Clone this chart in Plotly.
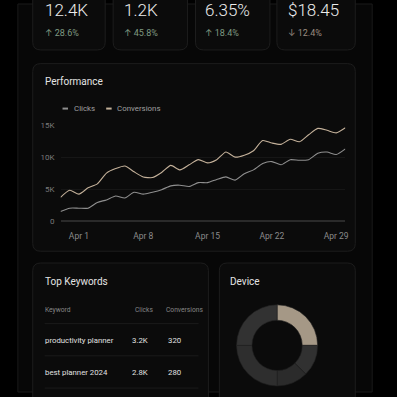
import plotly.graph_objects as go
import pandas as pd

W = H = 397

# ---------------- data ----------------
dates = pd.date_range("2024-03-30", "2024-04-30", freq="D")
clicks = [1500, 2000, 2000, 2000, 2900, 3300, 3900, 3600, 4500, 4200, 4500, 4900,
          5500, 5600, 5400, 6000, 6000, 6500, 6900, 6400, 7400, 8000, 9000, 9300,
          8800, 9600, 9500, 9600, 10600, 10800, 10400, 11300]
conversions = [3700, 4800, 4200, 5200, 5800, 7500, 8200, 8600, 7700, 6900, 6800, 7600,
               8700, 8000, 8800, 9600, 9100, 9600, 10800, 10000, 10300, 11000, 12600, 12200,
               12000, 12800, 12400, 13500, 14500, 14200, 13800, 14600]

x_tick_dates = ["2024-04-01", "2024-04-08", "2024-04-15", "2024-04-22", "2024-04-29"]
x_tick_text = ["Apr 1", "Apr 8", "Apr 15", "Apr 22", "Apr 29"]
y_tick_vals = [0, 5000, 10000, 15000]
y_tick_text = ["0", "5K", "10K", "15K"]

kpi_values = ["12.4K", "1.2K", "6.35%", "$18.45"]
kpi_changes = ["↑ 28.6%", "↑ 45.8%", "↑ 18.4%", "↓ 12.4%"]
kpi_up = [True, True, True, False]

kw_header = ["Keyword", "Clicks", "Conversions"]
kw_names = ["productivity planner", "best planner 2024"]
kw_clicks = ["3.2K", "2.8K"]
kw_conv = ["320", "280"]

device_labels = ["Desktop", "Mobile", "Tablet", "Other A", "Other B"]
device_share = [25, 12.5, 12.5, 25, 25]
device_colors = ["#a59886", "#313131", "#2b2b2b", "#2e2e2e", "#323232"]

series_colors = {"Clicks": "#8f8f8f", "Conversions": "#c4b19a"}

# ---------------- helpers ----------------
def px(x):
    return x / W

def py(y):
    return 1 - y / H

def rrect(x0, y0, x1, y1, r=8):
    pts = [
        ("M", [(x0 + r, y0)]),
        ("L", [(x1 - r, y0)]),
        ("Q", [(x1, y0), (x1, y0 + r)]),
        ("L", [(x1, y1 - r)]),
        ("Q", [(x1, y1), (x1 - r, y1)]),
        ("L", [(x0 + r, y1)]),
        ("Q", [(x0, y1), (x0, y1 - r)]),
        ("L", [(x0, y0 + r)]),
        ("Q", [(x0, y0), (x0 + r, y0)]),
    ]
    s = ""
    for cmd, ps in pts:
        s += cmd + " " + " ".join(f"{px(a):.5f},{py(b):.5f}" for a, b in ps) + " "
    return s + "Z"

FONT = "Roboto, Inter, sans-serif"

fig = go.Figure()

# line chart
fig.add_trace(go.Scatter(x=dates, y=clicks, mode="lines", name="Clicks",
                         line=dict(color=series_colors["Clicks"], width=1.1, shape="spline", smoothing=0.6),
                         showlegend=False, hoverinfo="skip"))
fig.add_trace(go.Scatter(x=dates, y=conversions, mode="lines", name="Conversions",
                         line=dict(color=series_colors["Conversions"], width=1.1, shape="spline", smoothing=0.6),
                         showlegend=False, hoverinfo="skip"))

# donut
cx, cy, R = 279.2, 349.3, 41.5
fig.add_trace(go.Pie(labels=device_labels, values=device_share, hole=0.62, sort=False,
                     direction="clockwise", rotation=0, textinfo="none", showlegend=False,
                     marker=dict(colors=device_colors, line=dict(color="#202020", width=0.6)),
                     domain=dict(x=[px(cx - R), px(cx + R)], y=[py(cy + R), py(cy - R)]),
                     hoverinfo="skip"))

shapes = []
# outer panel
shapes.append(dict(type="rect", xref="paper", yref="paper", x0=px(18), x1=px(375), y0=0, y1=1,
                   fillcolor="#070707", line=dict(color="#1a1a1a", width=1), layer="below"))
# KPI cards
kpi_cards = [(33, 106), (114, 189), (197, 272), (279, 358)]
for (a, b) in kpi_cards:
    shapes.append(dict(type="path", xref="paper", yref="paper", path=rrect(a, -20, b, 47, 8),
                       fillcolor="#0b0b0b", line=dict(color="#1d1d1d", width=1), layer="below"))
# performance card
shapes.append(dict(type="path", xref="paper", yref="paper", path=rrect(33, 61, 358, 253, 8),
                   fillcolor="#0b0b0b", line=dict(color="#1d1d1d", width=1), layer="below"))
# bottom cards
shapes.append(dict(type="path", xref="paper", yref="paper", path=rrect(33, 265, 210, 420, 8),
                   fillcolor="#0b0b0b", line=dict(color="#1d1d1d", width=1), layer="below"))
shapes.append(dict(type="path", xref="paper", yref="paper", path=rrect(221, 265, 358, 420, 8),
                   fillcolor="#0b0b0b", line=dict(color="#1d1d1d", width=1), layer="below"))
# table separators
for yy in [327, 360, 393]:
    shapes.append(dict(type="line", xref="paper", yref="paper", x0=px(45), x1=px(200),
                       y0=py(yy), y1=py(yy), line=dict(color="#1b1b1b", width=1)))
# legend swatches
for (a, b), key in zip([(63, 68.5), (107, 112.5)], ["Clicks", "Conversions"]):
    shapes.append(dict(type="line", xref="paper", yref="paper", x0=px(a), x1=px(b),
                       y0=py(107), y1=py(107), line=dict(color=series_colors[key], width=2)))

ann = []
def text(x, y, s, size, color, anchor="left", weight=None, yanchor="middle"):
    f = dict(family=FONT, size=size, color=color)
    if weight:
        f["weight"] = weight
    ann.append(dict(x=px(x - 1), y=py(y), xref="paper", yref="paper", text=s, showarrow=False,
                    xanchor=anchor, yanchor=yanchor, font=f, borderpad=0))

kpi_x = [45, 125, 207, 290]
for x, v, c, up in zip(kpi_x, kpi_values, kpi_changes, kpi_up):
    text(x, 6.5, v, 17, "#ececec", weight=300)
    text(x, 30, c, 9, "#7f9a82" if up else "#9a8c80")

text(45, 79, "Performance", 10, "#e4e4e4")
text(75, 107, "Clicks", 7.9, "#a0a0a0")
text(118, 107, "Conversions", 7.9, "#a0a0a0")

text(45, 284, "Top Keywords", 10, "#e4e4e4")
text(232, 284, "Device", 10, "#e4e4e4")

text(45, 313, kw_header[0], 6.7, "#858585")
text(136, 313, kw_header[1], 6.7, "#858585")
text(167, 313, kw_header[2], 6.7, "#858585")
for i, yy in enumerate([344, 377]):
    text(45, yy, kw_names[i], 7.8, "#e0e0e0")
    text(133, yy, kw_clicks[i], 7.8, "#e0e0e0")
    text(169, yy, kw_conv[i], 7.8, "#e0e0e0")

fig.update_layout(
    width=W, height=H, margin=dict(l=0, r=0, t=0, b=0),
    paper_bgcolor="#000000", plot_bgcolor="rgba(0,0,0,0)",
    shapes=shapes, annotations=ann, showlegend=False,
    xaxis=dict(domain=[px(61), px(348)], range=[dates[0], dates[-1]], type="date",
               tickvals=x_tick_dates, ticktext=x_tick_text, showgrid=False, zeroline=False,
               ticks="", ticklabelstandoff=9,
               tickfont=dict(family=FONT, size=8.5, color="#8a8a8a")),
    yaxis=dict(domain=[py(222), py(124)], range=[0, 15000],
               tickvals=y_tick_vals, ticktext=y_tick_text, showgrid=True, gridcolor="#161616",
               zeroline=True, zerolinecolor="#2a2a2a", zerolinewidth=1.5,
               ticks="", ticklabelstandoff=5,
               tickfont=dict(family=FONT, size=8, color="#7a7a7a")),
)

fig.write_html("out.html")
